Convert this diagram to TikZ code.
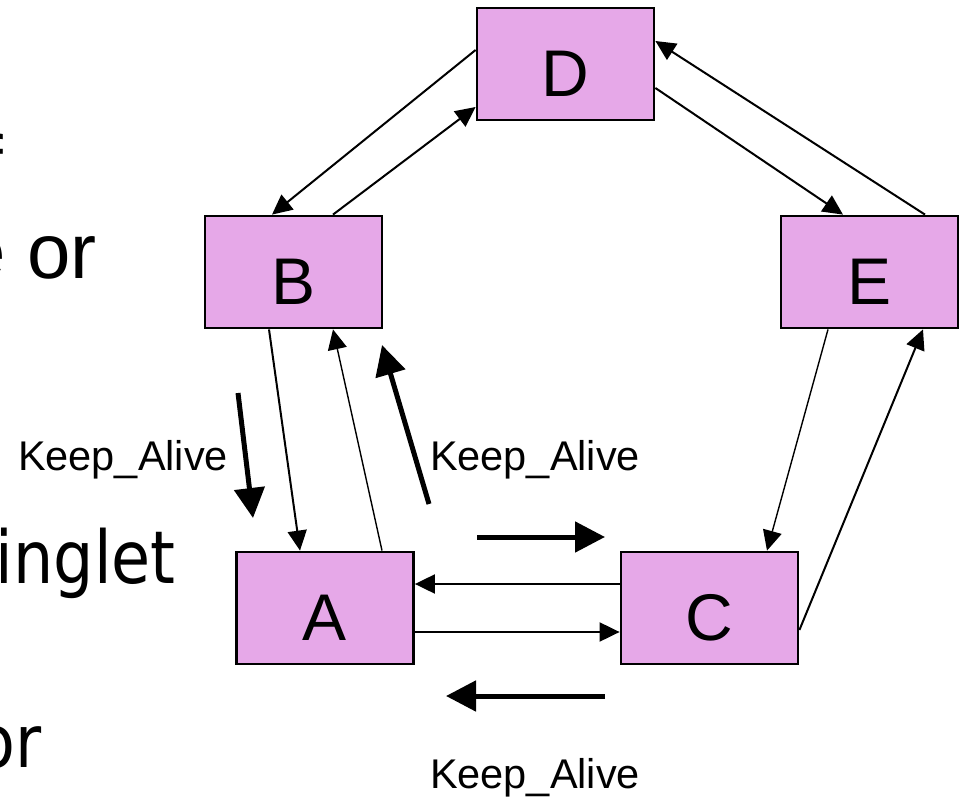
\documentclass[tikz,border=0pt]{standalone}
\usepackage{fontspec}
\setmainfont{Liberation Sans}
\newfontfamily\slidefont[FakeStretch=0.87]{DejaVu Sans}
\usetikzlibrary{arrows.meta}
\definecolor{peerpink}{RGB}{230,168,232}

\begin{document}
\begin{tikzpicture}[y=-1pt,x=1pt,
	peer/.style={draw=black, line width=2.8pt, fill=peerpink, minimum width=177pt, minimum height=112pt, inner sep=0pt, text height=75pt, text depth=10pt, font=\fontsize{66}{70}\selectfont},
	link/.style={line width=2pt, -{Triangle[length=20pt,width=19pt]}},
	thinlink/.style={line width=1.4pt, -{Triangle[length=20pt,width=19pt]}},
	alive/.style={line width=5pt, -{Triangle[length=30pt,width=30pt]}},
	tag/.style={font=\fontsize{41.5}{45}\selectfont, anchor=base, inner sep=0pt},
	cut/.style={anchor=base east, inner sep=0pt, font=\fontsize{78}{80}\selectfont}]
	\useasboundingbox (0,0) rectangle (961,797);

	\node[cut] (f1) at (3,190) {f};
	\node[cut] (f2) at (97,278) {e or};
	\node[cut, font=\slidefont\fontsize{73}{76}\selectfont] (f3) at (176,583) {inglet};
	\node[cut, font=\slidefont\fontsize{73}{76}\selectfont] (f4) at (42,767) {or};

	\node[peer] (D) at (565.5,64) {D};
	\node[peer] (B) at (293.5,272) {B};
	\node[peer] (E) at (869.5,272) {E};
	\node[peer] (A) at (325,608) {A};
	\node[peer] (C) at (709.5,608) {C};

	\draw[link] ([yshift=14pt]D.west) -- ([xshift=-21.5pt]B.north);
	\draw[link] ([xshift=39.5pt]B.north) -- ([yshift=-43pt]D.west);
	\draw[link] ([xshift=55.5pt]E.north) -- ([yshift=23pt]D.east);
	\draw[link] ([yshift=-24pt]D.east) -- ([xshift=-26.5pt]E.north);
	\draw[link] ([xshift=-24.5pt]B.south) -- ([xshift=-25pt]A.north);
	\draw[thinlink] ([xshift=57pt]A.north) -- ([xshift=39.5pt]B.south);
	\draw[link] ([yshift=24pt]C.west) -- ([yshift=24pt]A.east);
	\draw[link] ([yshift=-24pt]A.east) -- ([yshift=-24pt]C.west);
	\draw[thinlink] ([xshift=-41.5pt]E.south) -- ([xshift=57.5pt]C.north);
	\draw[link] ([yshift=-22pt]C.east) -- ([xshift=53.5pt]E.south);

	\coordinate (ba1) at (238,393);
	\coordinate (ba2) at (253,518);
	\coordinate (ab1) at (429,504);
	\coordinate (ab2) at (382,345);
	\coordinate (ac1) at (477,537);
	\coordinate (ac2) at (605,537);
	\coordinate (ca1) at (605,696);
	\coordinate (ca2) at (446,696);
	\draw[alive] (ba1) -- (ba2);
	\draw[alive] (ab1) -- (ab2);
	\draw[alive] (ac1) -- (ac2);
	\draw[alive] (ca1) -- (ca2);

	\node[tag] (k1) at (123,470) {Keep\_Alive};
	\node[tag] (k2) at (535,470) {Keep\_Alive};
	\node[tag] (k3) at (535,788) {Keep\_Alive};
\end{tikzpicture}
\end{document}
